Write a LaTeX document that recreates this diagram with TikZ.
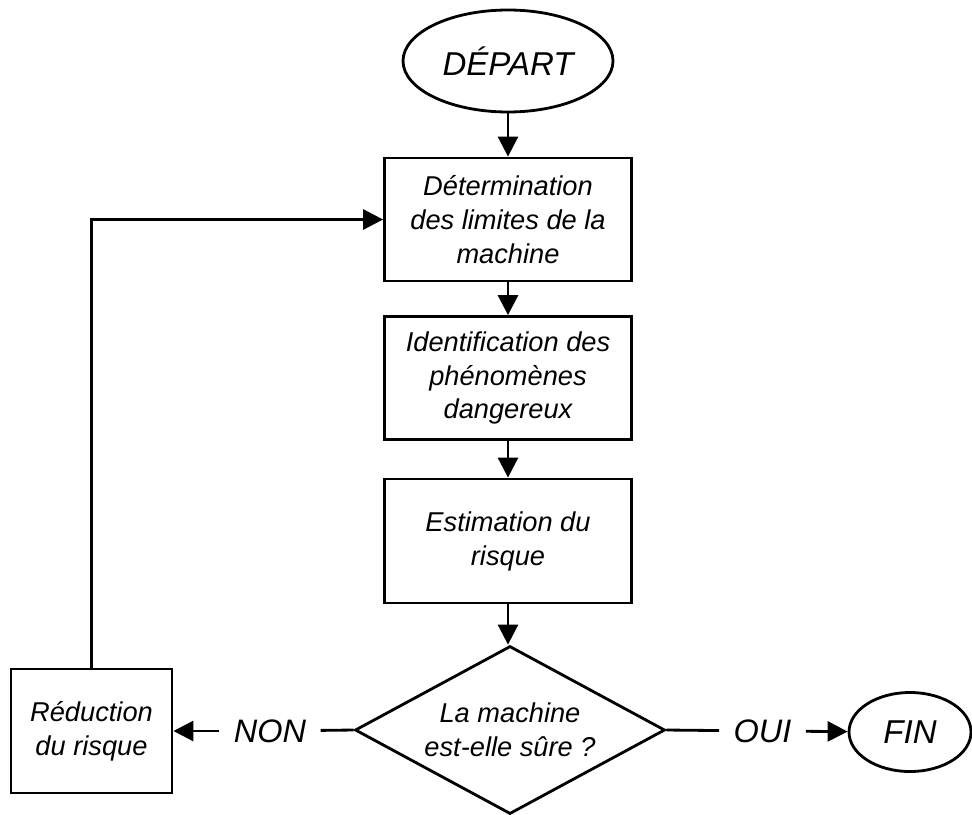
\documentclass[tikz,border=0pt]{standalone}
\usepackage{fontspec}
\setmainfont{Liberation Sans}
\usepackage{tikz}
\usetikzlibrary{shapes,arrows,positioning,calc,arrows.meta}

\begin{document}
\begin{tikzpicture}[
    line width=1.6pt,
    box/.style={draw, rectangle, minimum width=4.94cm, minimum height=2.46cm, inner sep=0pt, align=center, font=\itshape\fontsize{15.5}{19.3}\selectfont},
    term/.style={draw, ellipse, inner sep=0pt, font=\itshape\fontsize{18.8}{22}\selectfont},
    decision/.style={draw, diamond, aspect=1.85, minimum width=6.2cm, minimum height=3.36cm, inner sep=0pt, align=center, font=\itshape\fontsize{15.5}{19.3}\selectfont},
    answer/.style={inner sep=0.26cm, font=\itshape\fontsize{18.5}{22}\selectfont},
    flow/.style={-{Triangle[length=0.4cm,width=0.4cm]}}
]
    \useasboundingbox (0, 0) rectangle (19.44, -16.28);

    % Main column
    \node [term, minimum width=4.2cm, minimum height=2.04cm] (depart) at (10.16, -1.22) {DÉPART};
    \node [box] (limites) at (10.16, -4.39) {Détermination\\des limites de la\\machine};
    \node [box] (phenomenes) at (10.16, -7.56) {Identification des\\phénomènes\\dangereux};
    \node [box, minimum height=2.48cm] (estimation) at (10.16, -10.82) {Estimation du\\risque};
    \node [decision] (sure) at (10.2, -14.6) {La machine\\est-elle sûre ?};

    \draw [flow] (depart) -- (limites);
    \draw [flow] (limites) -- (phenomenes);
    \draw [flow] (phenomenes) -- (estimation);
    \draw [flow] (estimation) -- (estimation |- sure.north);

    % Answers
    \node [answer] (non) at (5.4, -14.62) {NON};
    \node [box, minimum width=3.22cm, minimum height=2.48cm] (reduction) at (1.83, -14.62) {Réduction\\du risque};
    \node [answer] (oui) at (15.25, -14.62) {OUI};
    \node [term, minimum width=2.44cm, minimum height=1.58cm] (fin) at (18.2, -14.64) {FIN};

    \draw (sure.west) -- (non);
    \draw [flow] (non) -- (reduction);
    \draw (sure.east) -- (oui);
    \draw [flow] (oui) -- (fin);

    % Loop back
    \draw [flow] (reduction.north) |- (limites.west);
\end{tikzpicture}
\end{document}
